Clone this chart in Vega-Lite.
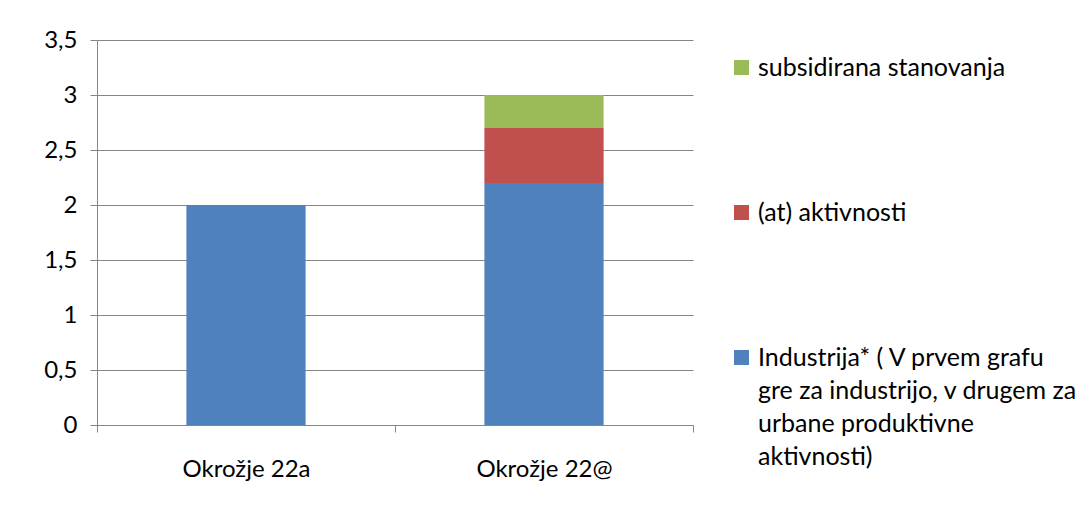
{
  "$schema": "https://vega.github.io/schema/vega-lite/v6.json",
  "width": 596,
  "height": 385,
  "autosize": {"type": "none"},
  "padding": {"left": 97, "top": 40, "right": 397, "bottom": 82},
  "background": "white",
  "data": {
    "values": [
      {"okrozje": "Okrožje 22a", "serija": "Industrija* ( V prvem grafu gre za industrijo, v drugem za urbane produktivne aktivnosti)", "vrednost": 2.0, "zaporedje": 1},
      {"okrozje": "Okrožje 22@", "serija": "Industrija* ( V prvem grafu gre za industrijo, v drugem za urbane produktivne aktivnosti)", "vrednost": 2.2, "zaporedje": 1},
      {"okrozje": "Okrožje 22@", "serija": "(at) aktivnosti", "vrednost": 0.5, "zaporedje": 2},
      {"okrozje": "Okrožje 22@", "serija": "subsidirana stanovanja", "vrednost": 0.3, "zaporedje": 3}
    ]
  },
  "mark": {"type": "bar", "width": {"band": 0.4}},
  "encoding": {
    "x": {
      "field": "okrozje",
      "type": "nominal",
      "sort": null,
      "scale": {"paddingInner": 0, "paddingOuter": 0},
      "axis": {
        "title": null,
        "labelAngle": 0,
        "tickBand": "extent",
        "tickSize": 7,
        "tickColor": "#868686",
        "domainColor": "#868686",
        "labelPadding": 25,
        "labelFont": "Lato",
        "labelFontSize": 24,
        "labelColor": "black"
      }
    },
    "y": {
      "field": "vrednost",
      "type": "quantitative",
      "stack": "zero",
      "scale": {"domain": [0, 3.5], "nice": false},
      "axis": {
        "title": null,
        "values": [0, 0.5, 1, 1.5, 2, 2.5, 3, 3.5],
        "labelExpr": "replace(format(datum.value, '~g'), '.', ',')",
        "grid": true,
        "gridColor": "#868686",
        "domainColor": "#868686",
        "tickColor": "#868686",
        "tickSize": 7,
        "labelPadding": 13,
        "labelFont": "Lato",
        "labelFontSize": 24,
        "labelColor": "black"
      }
    },
    "color": {
      "field": "serija",
      "type": "nominal",
      "scale": {
        "domain": ["subsidirana stanovanja", "(at) aktivnosti", "Industrija* ( V prvem grafu gre za industrijo, v drugem za urbane produktivne aktivnosti)"],
        "range": ["#9BBB59", "#C0504D", "#4F81BD"]
      },
      "legend": {
        "orient": "none",
        "legendX": 632,
        "legendY": 15,
        "title": null,
        "padding": 0,
        "symbolType": "square",
        "symbolSize": 225,
        "symbolStrokeWidth": 0,
        "symbolOpacity": 1,
        "labelFont": "Lato",
        "labelFontSize": 25,
        "labelColor": "black",
        "labelOffset": 4,
        "labelLimit": 400,
        "rowPadding": 119,
        "labelExpr": "datum.label == 'Industrija* ( V prvem grafu gre za industrijo, v drugem za urbane produktivne aktivnosti)' ? ['Industrija* ( V prvem grafu', 'gre za industrijo, v drugem za', 'urbane produktivne', 'aktivnosti)'] : datum.label",
        "encode": {"labels": {"update": {"lineHeight": {"value": 33}}}}
      }
    },
    "order": {"field": "zaporedje", "type": "quantitative"}
  },
  "config": {"view": {"stroke": null}}
}
